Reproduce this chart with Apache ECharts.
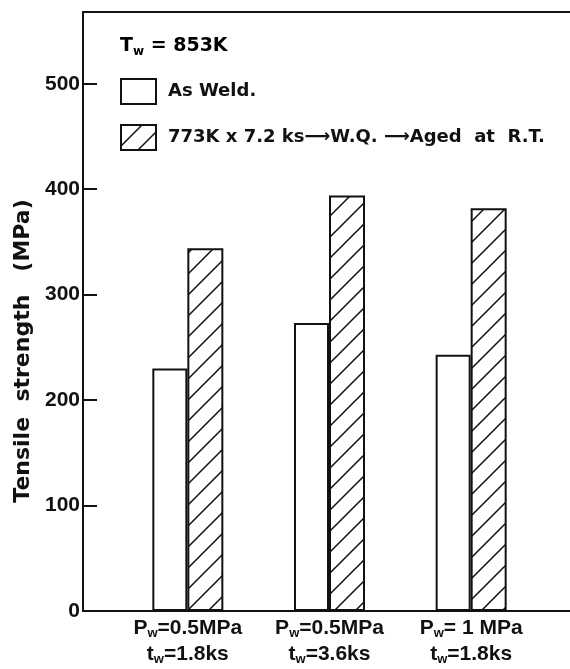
<!DOCTYPE html>
<html>
<head>
<meta charset="utf-8">
<script src="https://cdn.jsdelivr.net/npm/echarts@6/dist/echarts.min.js"></script>
<style>
html,body{margin:0;padding:0;background:#fff;}
#chart{width:570px;height:669px;}
</style>
</head>
<body>
<div id="chart"></div>
<script>
// ---- data ----
const pressures = ['0.5MPa', '0.5MPa', ' 1 MPa'];
const times = ['1.8ks', '3.6ks', '1.8ks'];
const asWeld = [230, 273, 243];
const aged = [344, 394, 382];
const yTicks = [0, 100, 200, 300, 400, 500];
const seriesNames = ['As Weld.', '773K x 7.2 ks\u27F6W.Q. \u27F6Aged  at  R.T.'];

const categories = pressures.map((p, i) => p + '|' + times[i]);

const FONT = 'Liberation Sans';
const WIDE = 'DejaVu Sans';

function makeHatch() {
  const s = 21;
  const c = document.createElement('canvas');
  c.width = s; c.height = s;
  const g = c.getContext('2d');
  g.fillStyle = '#fff';
  g.fillRect(0, 0, s, s);
  g.strokeStyle = '#111';
  g.lineWidth = 1.5;
  g.beginPath();
  g.moveTo(-2, s + 2); g.lineTo(s + 2, -2);
  g.moveTo(-s / 2 - 2, s / 2 + 2); g.lineTo(s / 2 + 2, -s / 2 - 2);
  g.moveTo(s / 2 - 2, s * 1.5 + 2); g.lineTo(s * 1.5 + 2, s / 2 - 2);
  g.stroke();
  return c;
}
const hatch = { image: makeHatch(), repeat: 'repeat' };

const chart = echarts.init(document.getElementById('chart'));
const axisCommon = { fontFamily: FONT, fontWeight: 'bold', color: '#111' };
const wideCommon = { fontFamily: WIDE, fontWeight: 'bold', color: '#111' };

chart.setOption({
  animation: false,
  backgroundColor: '#fff',
  grid: [
    { left: 83, right: 0, top: 12, bottom: 58 },
    { left: 117, right: 28, top: 12, bottom: 58 }
  ],
  legend: {
    orient: 'vertical',
    left: 120,
    top: 78,
    padding: 0,
    itemWidth: 35,
    itemHeight: 25,
    itemGap: 19,
    icon: 'rect',
    textStyle: Object.assign({ fontSize: 18, lineHeight: 25, padding: [0, 0, 0, 7] }, wideCommon),
    data: seriesNames
  },
  xAxis: [
    { type: 'category', gridIndex: 0, data: ['a'], position: 'bottom',
      axisLine: { lineStyle: { color: '#111', width: 2 } },
      axisTick: { show: false }, axisLabel: { show: false }, splitLine: { show: false } },
    { type: 'category', gridIndex: 0, data: ['a'], position: 'top',
      axisLine: { show: true, lineStyle: { color: '#111', width: 2 } },
      axisTick: { show: false }, axisLabel: { show: false }, splitLine: { show: false } },
    { type: 'category', gridIndex: 1, data: categories, position: 'bottom',
      axisLine: { show: false }, axisTick: { show: false }, splitLine: { show: false },
      axisLabel: {
        interval: 0,
        hideOverlap: false,
        margin: 4,
        formatter: function (v) {
          const parts = v.split('|');
          return '{a|P}{s|w}{a|=' + parts[0] + '}\n{a|t}{s|w}{a|=' + parts[1] + '}';
        },
        rich: {
          a: Object.assign({ fontSize: 21, lineHeight: 26 }, axisCommon),
          s: Object.assign({ fontSize: 13, lineHeight: 26, padding: [10, 0, 0, 0] }, axisCommon)
        }
      } }
  ],
  yAxis: [
    { type: 'value', gridIndex: 0, min: 0, max: 568, interval: 100,
      axisLine: { show: true, lineStyle: { color: '#111', width: 2 } },
      axisTick: { show: true, inside: true, length: 14, lineStyle: { color: '#111', width: 2 } },
      splitLine: { show: false },
      axisLabel: Object.assign({ fontSize: 21, margin: 3,
        formatter: function (v) { return yTicks.indexOf(v) >= 0 ? String(v) : ''; } }, axisCommon) },
    { type: 'value', gridIndex: 1, min: 0, max: 568, interval: 100, show: false }
  ],
  graphic: [
    { type: 'text', left: 120, top: 37, z: 10,
      style: { rich: {
        a: Object.assign({ fontSize: 19 }, wideCommon),
        s: Object.assign({ fontSize: 12, padding: [10, 0, 0, 0] }, wideCommon)
      }, text: '{a|T}{s|w}{a| = 853K}' } },
    { type: 'text', x: 23, y: 351, rotation: Math.PI / 2, z: 10,
      style: { text: 'Tensile  strength   (MPa)', fontSize: 22, align: 'center', verticalAlign: 'middle',
        fill: '#111', fontFamily: WIDE, fontWeight: 'bold' } }
  ],
  series: [
    { name: seriesNames[0], type: 'bar', xAxisIndex: 2, yAxisIndex: 1, data: asWeld,
      barWidth: 35, barGap: '0%',
      itemStyle: { color: '#fff', borderColor: '#111', borderWidth: 2 } },
    { name: seriesNames[1], type: 'bar', xAxisIndex: 2, yAxisIndex: 1, data: aged,
      barWidth: 36, barGap: '0%',
      itemStyle: { color: hatch, borderColor: '#111', borderWidth: 2 } }
  ]
});
</script>
</body>
</html>
